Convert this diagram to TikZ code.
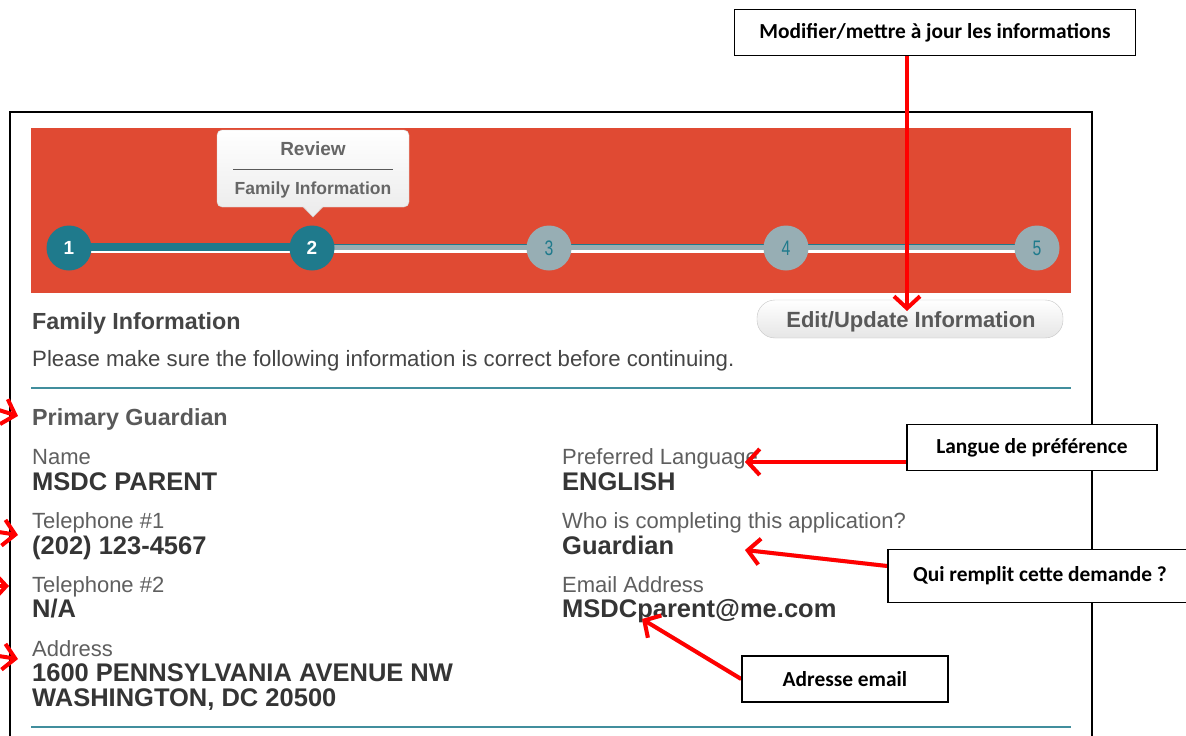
\documentclass[tikz,border=0pt]{standalone}
\usepackage{fontspec}
\setmainfont{Liberation Sans}
\newfontfamily\calib{Carlito}
\usetikzlibrary{arrows.meta,calc}
\pgfdeclarelayer{bg}
\pgfdeclarelayer{fg}
\pgfsetlayers{bg,main,fg}
\definecolor{banner}{HTML}{E04A33}
\definecolor{tealc}{HTML}{1F7A8C}
\definecolor{stepgray}{HTML}{97AEB4}
\definecolor{labgray}{HTML}{5F5F5F}
\definecolor{valdark}{HTML}{353535}
\definecolor{headgray}{HTML}{454545}
\tikzset{
  lab/.style={anchor=base west, inner sep=0pt, text=labgray, font=\fontsize{22}{26}\selectfont},
  val/.style={anchor=base west, inner sep=0pt, text=valdark, font=\fontsize{25.5}{29}\selectfont\bfseries},
  head/.style={anchor=base west, inner sep=0pt, text=headgray, font=\fontsize{23.3}{27}\selectfont\bfseries},
  stepdone/.style={circle, fill=tealc, minimum size=45pt, inner sep=0pt, text=white, font=\fontsize{19}{20}\selectfont\bfseries},
  steptodo/.style={circle, fill=stepgray, minimum size=45pt, inner sep=0pt, text=tealc, font=\fontsize{21}{22}\selectfont},
  callout/.style={draw=black, line width=1.6pt, fill=white, inner sep=0pt, font=\calib\bfseries\fontsize{21.4}{25}\selectfont},
  redarrow/.style={draw=red, line width=4pt, -{Straight Barb[length=12pt,width=26pt]}},
  arrowshadow/.style={draw=black, opacity=0.18, line width=4pt, -{Straight Barb[length=12pt,width=26pt]}, shift={(2pt,3pt)}},
}
\begin{document}
\begin{tikzpicture}[x=1pt,y=-1pt]
\useasboundingbox (0,0) rectangle (1186,736);
\clip (0,0) rectangle (1186,736);
\begin{pgfonlayer}{bg}
\fill[white] (0,0) rectangle (1186,736);
\end{pgfonlayer}
% outer frame
\draw[line width=2pt] (10,112) rectangle (1092,760);
% banner
\fill[banner] (31,128) rectangle (1071,293);
% stepper track
\draw[white, line width=2.5pt] (69,251.5) -- (1037,251.5);
\fill[stepgray] (312,244) rectangle (1037,250);
\draw[tealc, line width=1.3pt] (312,244.3) -- (1037,244.3);
\fill[tealc] (69,243) rectangle (312,250.5);
\node[stepdone] (s1) at (69,248) {1};
\node[stepdone] (s2) at (312,248) {2};
\node[steptodo] (s3) at (549,248) {\scalebox{0.75}[1]{3}};
\node[steptodo] (s4) at (786,248) {\scalebox{0.75}[1]{4}};
\node[steptodo] (s5) at (1037,248) {\scalebox{0.75}[1]{5}};
% tooltip
\node[draw=gray!35, rounded corners=5pt, top color=white, bottom color=gray!14, minimum width=192pt, minimum height=77pt, inner sep=0pt] (tipbox) at (313,168.5) {};
\fill[gray!14] (303,206.2) -- (313,217) -- (323,206.2) -- cycle;
\draw[gray!35, line width=0.4pt] (303,207) -- (313,217) -- (323,207);
\node[anchor=base, inner sep=0pt, text=black!60, font=\fontsize{19}{22}\selectfont\bfseries] (rev) at (313,155) {Review};
\draw[black!65, line width=1pt] (233,169) -- (393,169);
\node[anchor=base, inner sep=0pt, text=black!60, font=\fontsize{17.5}{20}\selectfont\bfseries] (revfam) at (313,194) {Family Information};
% headings
\node[head] (famhead) at (32,329) {Family Information};
\node[anchor=base west, inner sep=0pt, text=headgray, font=\fontsize{22.2}{26}\selectfont] (please) at (32,366) {Please make sure the following information is correct before continuing.};
\draw[tealc!85, line width=1.5pt] (31,388) -- (1071,388);
\node[head, text=black!65] (prim) at (32,425) {Primary Guardian};
% edit button
\node[draw=gray!45, rounded corners=18pt, top color=white, bottom color=gray!20, minimum width=306pt, minimum height=38pt, inner sep=0pt] (edit) at (910,319) {};
\node[anchor=base, inner sep=0pt, text=black!65, font=\fontsize{22}{26}\selectfont\bfseries] (edittext) at (911,327.5) {Edit/Update Information};
% left column
\node[lab] (lname) at (32,464) {Name};
\node[val] (vname) at (32,490) {MSDC PARENT};
\node[lab] (ltel1) at (32,528) {Telephone \#1};
\node[val] (vtel1) at (32,554) {(202) 123-4567};
\node[lab] (ltel2) at (32,592) {Telephone \#2};
\node[val] (vtel2) at (32,617) {N/A};
\node[lab] (laddr) at (32,656) {Address};
\node[val] (vaddr1) at (32,681) {1600 PENNSYLVANIA AVENUE NW};
\node[val] (vaddr2) at (32,706) {WASHINGTON, DC 20500};
% right column
\node[lab] (llang) at (562,464) {Preferred Language};
\node[val] (vlang) at (562,490) {ENGLISH};
\node[lab] (lwho) at (562,528) {Who is completing this application?};
\node[val] (vwho) at (562,554) {Guardian};
\node[lab] (lmail) at (562,592) {Email Address};
\node[val] (vmail) at (562,617) {MSDCparent@me.com};
\draw[tealc!85, line width=1.5pt] (31,727) -- (1071,727);
% callouts (foreground)
\begin{pgfonlayer}{fg}
\node[callout, minimum width=401pt, minimum height=46pt] (c1) at (935,32.5) {Modifier/mettre à jour les informations};
\node[callout, minimum width=250pt, minimum height=46pt] (c2) at (1032,447.5) {Langue de préférence};
\node[callout, minimum width=304pt, minimum height=53pt] (c3) at (1040,576) {Qui remplit cette demande ?};
\node[callout, minimum width=206pt, minimum height=46pt] (c4) at (845,679) {Adresse email};
\end{pgfonlayer}
% arrow targets
\coordinate (t1) at (907,311);
\coordinate (t2) at (745,462);
\coordinate (t3) at (745,550);
\coordinate (t4) at (642,619);
\coordinate (o1) at (-40,398);
\coordinate (o2) at (-40,526);
\coordinate (o3) at (-40,586);
\coordinate (o4) at (-40,650);
\coordinate (l1) at (18,416);
\coordinate (l2) at (18,535);
\coordinate (l3) at (9,586);
\coordinate (l4) at (18,659);
% shadows
\draw[arrowshadow] (c2.west |- t2) -- (t2);
\draw[arrowshadow] ($(c3.west)+(0,-10)$) -- (t3);
\draw[arrowshadow] (c4.west) -- (t4);
% arrows
\draw[redarrow] (c1.south -| t1) -- (t1);
\draw[redarrow] (c2.west |- t2) -- (t2);
\draw[redarrow] ($(c3.west)+(0,-10)$) -- (t3);
\draw[redarrow] (c4.west) -- (t4);
\draw[redarrow] (o1) -- (l1);
\draw[redarrow] (o2) -- (l2);
\draw[redarrow] (o3) -- (l3);
\draw[redarrow] (o4) -- (l4);
\end{tikzpicture}
\end{document}
